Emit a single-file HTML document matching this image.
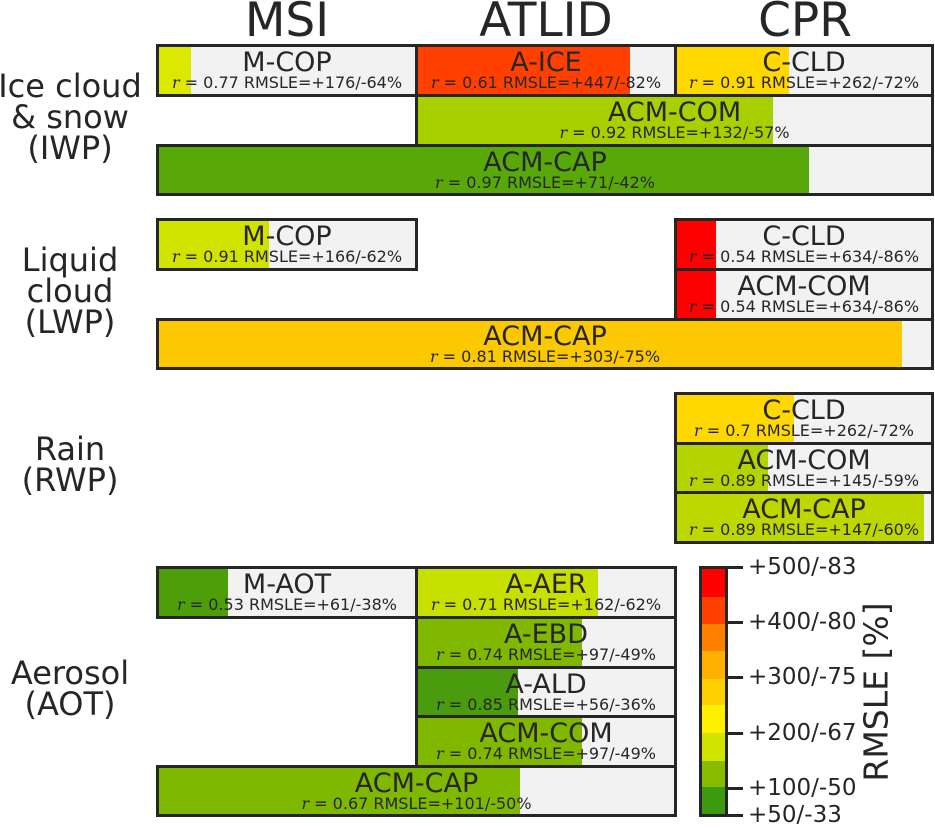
<!DOCTYPE html>
<html><head><meta charset="utf-8"><style>
body{margin:0;width:935px;height:826px;background:#fff;position:relative;overflow:hidden;font-family:"DejaVu Sans","Liberation Sans",sans-serif;color:#262626}
.h{position:absolute;top:-7px;font-size:47px;width:260px;text-align:center}
.l{position:absolute;left:-10px;width:160px;text-align:center;font-size:32px;line-height:31px}
.b{position:absolute;box-sizing:border-box;border:3px solid #262626;background:#f2f2f2;overflow:hidden}
.f{position:absolute;left:0;top:0;bottom:0}
.n{position:absolute;left:0;right:0;top:1px;text-align:center;font-size:27px;line-height:30px}
.s{position:absolute;left:0;right:0;top:27px;text-align:center;font-size:16px;line-height:18px;white-space:nowrap}
.s i{font-family:"DejaVu Serif",serif}
.t{position:absolute;left:726px;width:17px;height:3px;background:#262626}
.tl{position:absolute;left:748px;font-size:23px;line-height:24px}
</style></head><body>
<div class="h" style="left:157px">MSI</div>
<div class="h" style="left:416px">ATLID</div>
<div class="h" style="left:675px">CPR</div>

<div class="l" style="top:71px">Ice cloud<br>&amp; snow<br>(IWP)</div>
<div class="l" style="top:245px">Liquid<br>cloud<br>(LWP)</div>
<div class="l" style="top:434px">Rain<br>(RWP)</div>
<div class="l" style="top:658px">Aerosol<br>(AOT)</div>

<!-- Ice -->
<div class="b" style="left:156px;top:44px;width:262px;height:53px"><div class="f" style="width:32px;background:#dce800"></div><div class="n">M-COP</div><div class="s"><i>r</i> = 0.77 RMSLE=+176/-64%</div></div>
<div class="b" style="left:415px;top:44px;width:262px;height:53px"><div class="f" style="width:212px;background:#ff4000"></div><div class="n">A-ICE</div><div class="s"><i>r</i> = 0.61 RMSLE=+447/-82%</div></div>
<div class="b" style="left:674px;top:44px;width:260px;height:53px"><div class="f" style="width:112px;background:#ffd800"></div><div class="n">C-CLD</div><div class="s"><i>r</i> = 0.91 RMSLE=+262/-72%</div></div>
<div class="b" style="left:415px;top:94px;width:519px;height:53px"><div class="f" style="width:355px;background:#a8d000"></div><div class="n">ACM-COM</div><div class="s"><i>r</i> = 0.92 RMSLE=+132/-57%</div></div>
<div class="b" style="left:156px;top:144px;width:778px;height:52px"><div class="f" style="width:650px;background:#58a80a"></div><div class="n">ACM-CAP</div><div class="s"><i>r</i> = 0.97 RMSLE=+71/-42%</div></div>

<!-- Liquid -->
<div class="b" style="left:156px;top:218px;width:262px;height:53px"><div class="f" style="width:110px;background:#d0e400"></div><div class="n">M-COP</div><div class="s"><i>r</i> = 0.91 RMSLE=+166/-62%</div></div>
<div class="b" style="left:674px;top:218px;width:260px;height:53px"><div class="f" style="width:39px;background:#ff0000"></div><div class="n">C-CLD</div><div class="s"><i>r</i> = 0.54 RMSLE=+634/-86%</div></div>
<div class="b" style="left:674px;top:268px;width:260px;height:53px"><div class="f" style="width:39px;background:#ff0000"></div><div class="n">ACM-COM</div><div class="s"><i>r</i> = 0.54 RMSLE=+634/-86%</div></div>
<div class="b" style="left:156px;top:318px;width:778px;height:52px"><div class="f" style="width:743px;background:#fcc800"></div><div class="n">ACM-CAP</div><div class="s"><i>r</i> = 0.81 RMSLE=+303/-75%</div></div>

<!-- Rain -->
<div class="b" style="left:674px;top:392px;width:260px;height:53px"><div class="f" style="width:117px;background:#ffd800"></div><div class="n">C-CLD</div><div class="s"><i>r</i> = 0.7 RMSLE=+262/-72%</div></div>
<div class="b" style="left:674px;top:442px;width:260px;height:53px"><div class="f" style="width:91px;background:#b4d400"></div><div class="n">ACM-COM</div><div class="s"><i>r</i> = 0.89 RMSLE=+145/-59%</div></div>
<div class="b" style="left:674px;top:491px;width:260px;height:53px"><div class="f" style="width:247px;background:#bcd800"></div><div class="n">ACM-CAP</div><div class="s"><i>r</i> = 0.89 RMSLE=+147/-60%</div></div>

<!-- Aerosol -->
<div class="b" style="left:156px;top:566px;width:262px;height:53px"><div class="f" style="width:69px;background:#4e9e0a"></div><div class="n">M-AOT</div><div class="s"><i>r</i> = 0.53 RMSLE=+61/-38%</div></div>
<div class="b" style="left:415px;top:566px;width:262px;height:53px"><div class="f" style="width:180px;background:#c8e000"></div><div class="n">A-AER</div><div class="s"><i>r</i> = 0.71 RMSLE=+162/-62%</div></div>
<div class="b" style="left:415px;top:616px;width:262px;height:53px"><div class="f" style="width:164px;background:#80b800"></div><div class="n">A-EBD</div><div class="s"><i>r</i> = 0.74 RMSLE=+97/-49%</div></div>
<div class="b" style="left:415px;top:666px;width:262px;height:52px"><div class="f" style="width:100px;background:#4a9c0e"></div><div class="n">A-ALD</div><div class="s"><i>r</i> = 0.85 RMSLE=+56/-36%</div></div>
<div class="b" style="left:415px;top:715px;width:262px;height:53px"><div class="f" style="width:164px;background:#80b800"></div><div class="n">ACM-COM</div><div class="s"><i>r</i> = 0.74 RMSLE=+97/-49%</div></div>
<div class="b" style="left:156px;top:765px;width:521px;height:52px"><div class="f" style="width:361px;background:#7fb800"></div><div class="n">ACM-CAP</div><div class="s"><i>r</i> = 0.67 RMSLE=+101/-50%</div></div>

<!-- Colorbar -->
<div style="position:absolute;left:699px;top:566px;width:29px;height:251px;box-sizing:border-box;border:3px solid #262626;display:flex;flex-direction:column">
<div style="flex:28;background:#ff0000"></div><div style="flex:28;background:#ff4000"></div><div style="flex:27;background:#ff8000"></div><div style="flex:28;background:#ffb000"></div><div style="flex:27;background:#ffd000"></div><div style="flex:28;background:#fff000"></div><div style="flex:28;background:#d0e400"></div><div style="flex:27;background:#88bb00"></div><div style="flex:27;background:#3c9a10"></div>
</div>
<div class="t" style="top:566px"></div><div class="tl" style="top:555px">+500/-83</div>
<div class="t" style="top:621px"></div><div class="tl" style="top:610px">+400/-80</div>
<div class="t" style="top:676px"></div><div class="tl" style="top:665px">+300/-75</div>
<div class="t" style="top:732px"></div><div class="tl" style="top:721px">+200/-67</div>
<div class="t" style="top:787px"></div><div class="tl" style="top:776px">+100/-50</div>
<div class="t" style="top:814px"></div><div class="tl" style="top:803px">+50/-33</div>
<div style="position:absolute;left:876px;top:692px;transform:translate(-50%,-50%) rotate(-90deg);font-size:33px;white-space:nowrap">RMSLE [%]</div>
</body></html>
